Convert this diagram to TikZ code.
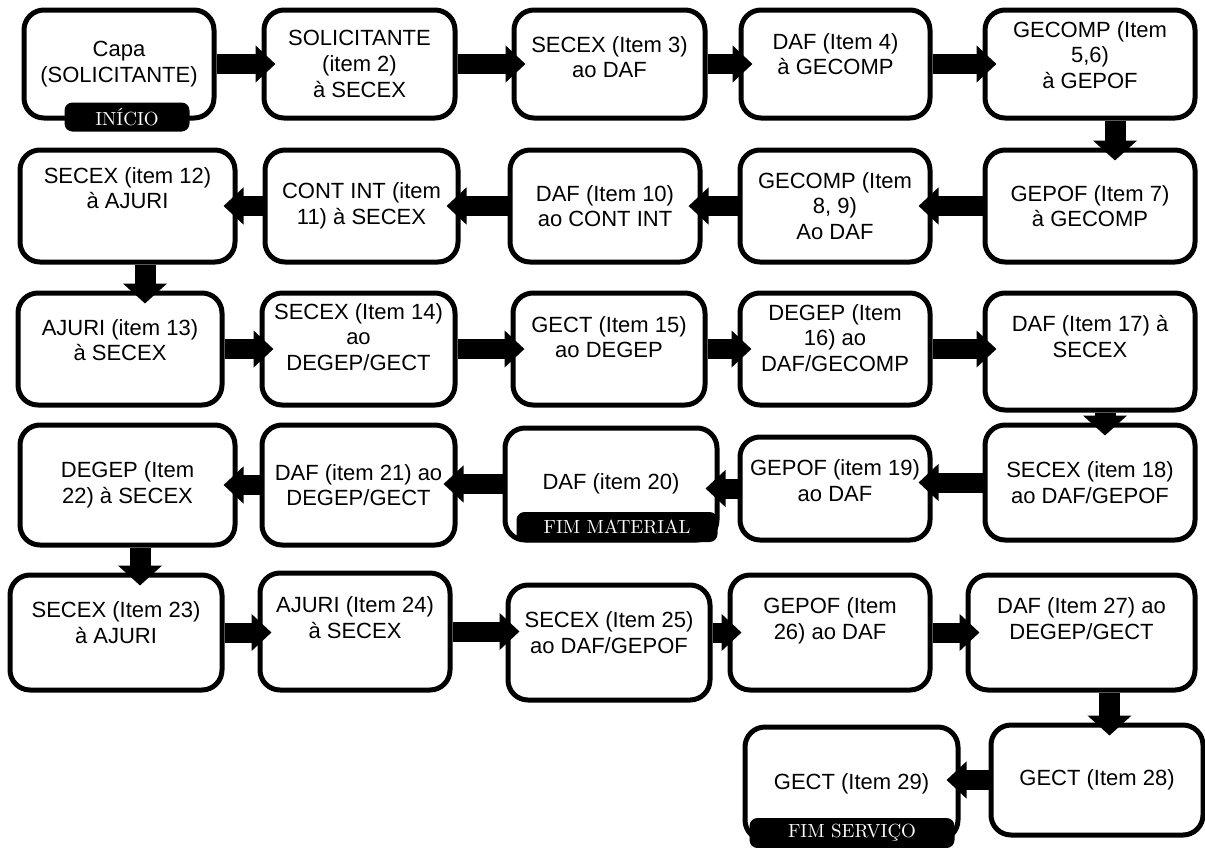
\documentclass[tikz,border=0pt]{standalone}
\usepackage{fontspec}
\setsansfont{Liberation Sans}
\usetikzlibrary{arrows.meta}

\begin{document}
\begin{tikzpicture}[x=0.5pt,y=-0.5pt,
    etapa/.style={draw, line width=2.5pt, rounded corners=10pt, align=center,
      font=\sffamily\fontsize{11}{12.8}\selectfont, inner sep=2pt},
    marco/.style={fill=black, text=white, rounded corners=4pt, inner sep=0pt,
      font=\fontsize{9.5}{11}\selectfont},
    fluxo/.style={line width=10pt, -{Triangle[width=18pt,length=10pt]}, shorten >=-7pt},
    fluxov/.style={line width=10.5pt, -{Triangle[width=21.5pt,length=10pt]}, shorten >=-6.5pt},
    acima/.style={text depth=#1}]
    \useasboundingbox (0,0) rectangle (1205,847);
    % linha 1
    \node[etapa, minimum width=95pt, minimum height=54pt] (b1) at (119,64) {Capa\\(SOLICITANTE)};
    \node[etapa, minimum width=95.5pt, minimum height=54pt] (b2) at (359.5,64) {SOLICITANTE\\(item 2)\\à SECEX};
    \node[etapa, minimum width=95.5pt, minimum height=54pt, acima=7pt] (b3) at (609.5,64) {SECEX (Item 3)\\ao DAF};
    \node[etapa, minimum width=94.5pt, minimum height=54pt, acima=10pt] (b4) at (835.5,64) {DAF (Item 4)\\à GECOMP};
    \node[etapa, minimum width=105pt, minimum height=54pt, acima=9pt] (b5) at (1090,64) {GECOMP (Item\\5,6)\\à GEPOF};
    % linha 2
    \node[etapa, minimum width=105pt, minimum height=56pt] (b6) at (1090,206) {GEPOF (Item 7)\\à GECOMP};
    \node[etapa, minimum width=95pt, minimum height=56pt] (b7) at (835,206) {GECOMP (Item\\8, 9)\\Ao DAF};
    \node[etapa, minimum width=95pt, minimum height=56pt] (b8) at (605,206) {DAF (Item 10)\\ao CONT INT};
    \node[etapa, minimum width=96.5pt, minimum height=56pt] (b9) at (361.5,206) {CONT INT (item\\11) à SECEX};
    \node[etapa, minimum width=107.5pt, minimum height=56pt, acima=18pt] (b10) at (127.5,206) {SECEX (item 12)\\à AJURI};
    % linha 3
    \node[etapa, minimum width=102pt, minimum height=56pt, acima=9pt] (b13) at (120,349) {AJURI (item 13)\\à SECEX};
    \node[etapa, minimum width=96.5pt, minimum height=56pt, acima=12pt] (b14) at (358.5,349) {SECEX (Item 14)\\ao\\DEGEP/GECT};
    \node[etapa, minimum width=96pt, minimum height=56pt, acima=12pt] (b15) at (609,349) {GECT (Item 15)\\ao DEGEP};
    \node[etapa, minimum width=95pt, minimum height=56pt, acima=11pt] (b16) at (835,349) {DEGEP (Item\\16) ao\\DAF/GECOMP};
    \node[etapa, minimum width=105pt, minimum height=58.5pt, acima=15pt] (b17) at (1090,351.5) {DAF (Item 17) à\\SECEX};
    % linha 4
    \node[etapa, minimum width=105pt, minimum height=57.5pt] (b18) at (1090,482.5) {SECEX (item 18)\\ao DAF/GEPOF};
    \node[etapa, minimum width=95pt, minimum height=51.5pt, acima=8pt] (b19) at (835,488.5) {GEPOF (item 19)\\ao DAF};
    \node[etapa, minimum width=106pt, minimum height=56pt] (b20) at (611,484) {DAF (item 20)};
    \node[etapa, minimum width=96.5pt, minimum height=60pt] (b21) at (358.5,485) {DAF (item 21) ao\\DEGEP/GECT};
    \node[etapa, minimum width=107.5pt, minimum height=60pt] (b22) at (127.5,485) {DEGEP (Item\\22) à SECEX};
    % linha 5
    \node[etapa, minimum width=106pt, minimum height=57.5pt, acima=10pt] (b23) at (116,632.5) {SECEX (Item 23)\\à AJURI};
    \node[etapa, minimum width=95pt, minimum height=58.5pt, acima=14pt] (b24) at (355,631.5) {AJURI (Item 24)\\à SECEX};
    \node[etapa, minimum width=101pt, minimum height=57.5pt, acima=10pt] (b25) at (609,642.5) {SECEX (Item 25)\\ao DAF/GEPOF};
    \node[etapa, minimum width=100pt, minimum height=57.5pt, acima=14pt] (b26) at (830,632.5) {GEPOF (Item\\26) ao DAF};
    \node[etapa, minimum width=113.5pt, minimum height=57.5pt, acima=14pt] (b27) at (1081.5,632.5) {DAF (Item 27) ao\\DEGEP/GECT};
    % linha 6
    \node[etapa, minimum width=106pt, minimum height=55pt] (b28) at (1097,780) {GECT (Item 28)};
    \node[etapa, minimum width=106.5pt, minimum height=56.5pt] (b29) at (851.5,783.5) {GECT (Item 29)};
    % marcos
    \node[marco, minimum width=62.5pt, minimum height=14.5pt] (inicio) at (127,117) {INÍCIO};
    \node[marco, minimum width=100.5pt, minimum height=15pt] (fimmat) at (617,527) {FIM MATERIAL};
    \node[marco, minimum width=102.5pt, minimum height=15pt] (fimserv) at (852,833) {FIM SERVIÇO};
    % setas horizontais
    \draw[fluxo] (b1.east) -- (b1.east -| b2.west);
    \draw[fluxo] (b2.east) -- (b2.east -| b3.west);
    \draw[fluxo] (b3.east) -- (b3.east -| b4.west);
    \draw[fluxo] (b4.east) -- (b4.east -| b5.west);
    \draw[fluxo] (b6.west) -- (b6.west -| b7.east);
    \draw[fluxo] (b7.west) -- (b7.west -| b8.east);
    \draw[fluxo] (b8.west) -- (b8.west -| b9.east);
    \draw[fluxo] (b9.west) -- (b9.west -| b10.east);
    \draw[fluxo] (b13.east) -- (b13.east -| b14.west);
    \draw[fluxo] (b14.east) -- (b14.east -| b15.west);
    \draw[fluxo] (b15.east) -- (b15.east -| b16.west);
    \draw[fluxo] (b16.east) -- (b16.east -| b17.west);
    \draw[fluxo] (b18.west) -- (b18.west -| b19.east);
    \draw[fluxo] (b19.west) -- (b19.west -| b20.east);
    \draw[fluxo] (b20.west) -- (b20.west -| b21.east);
    \draw[fluxo] (b21.west) -- (b21.west -| b22.east);
    \draw[fluxo] (b23.east) -- (b23.east -| b24.west);
    \draw[fluxo] (b24.east) -- (b24.east -| b25.west);
    \draw[fluxo] (b25.east |- b26.west) -- (b26.west);
    \draw[fluxo] (b26.east) -- (b26.east -| b27.west);
    \draw[fluxo] (b28.west) -- (b28.west -| b29.east);
    % setas verticais
    \coordinate (v1) at ([xshift=12.5pt]b5.south);
    \coordinate (v2) at ([xshift=8.75pt]b10.south);
    \coordinate (v3) at ([xshift=7.5pt]b17.south);
    \coordinate (v4) at ([xshift=6.25pt]b22.south);
    \coordinate (v5) at ([xshift=14pt]b27.south);
    \draw[fluxov] (v1) -- (v1 |- b6.north);
    \draw[fluxov] (v2) -- (v2 |- b13.north);
    \draw[fluxov] (v3) -- (v3 |- b18.north);
    \draw[fluxov] (v4) -- (v4 |- b23.north);
    \draw[fluxov] (v5) -- (v5 |- b28.north);
\end{tikzpicture}
\end{document}
